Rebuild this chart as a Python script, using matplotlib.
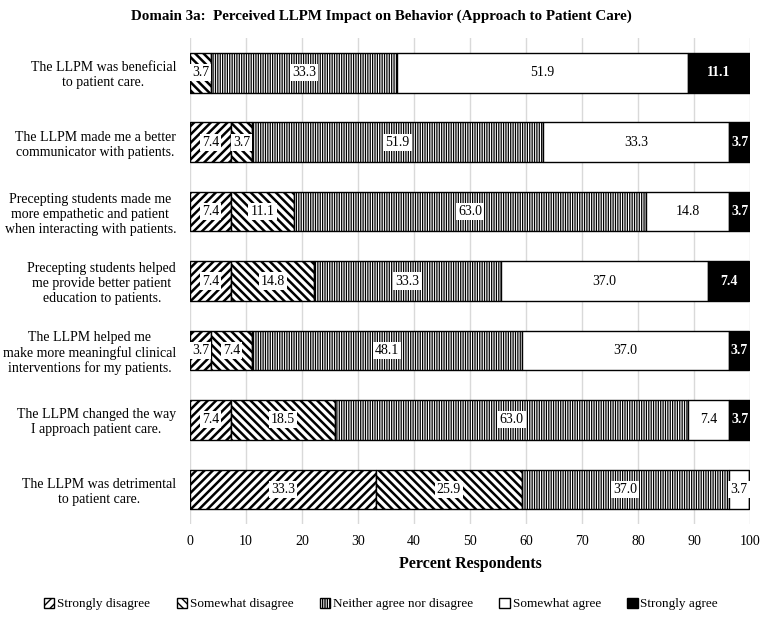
import matplotlib
matplotlib.use('Agg')
import matplotlib.pyplot as plt
import numpy as np

plt.rcParams['font.family'] = ['Liberation Serif', 'DejaVu Serif']

# statements (top to bottom)
statements = [
    'The LLPM was beneficial\nto patient care.',
    'The LLPM made me a better\ncommunicator with patients.',
    'Precepting students made me\nmore empathetic and patient\nwhen interacting with patients.',
    'Precepting students helped\nme provide better patient\neducation to patients.',
    'The LLPM helped me\nmake more meaningful clinical\ninterventions for my patients.',
    'The LLPM changed the way\nI approach patient care.',
    'The LLPM was detrimental\nto patient care.',
]
categories = ['Strongly disagree', 'Somewhat disagree', 'Neither agree nor disagree',
              'Somewhat agree', 'Strongly agree']

strongly_disagree = [0, 7.4, 7.4, 7.4, 3.7, 7.4, 33.3]
somewhat_disagree = [3.7, 3.7, 11.1, 14.8, 7.4, 18.5, 25.9]
neither = [33.3, 51.9, 63.0, 33.3, 48.1, 63.0, 37.0]
somewhat_agree = [51.9, 33.3, 14.8, 37.0, 37.0, 7.4, 3.7]
strongly_agree = [11.1, 3.7, 3.7, 7.4, 3.7, 3.7, 0]

series = [strongly_disagree, somewhat_disagree, neither, somewhat_agree, strongly_agree]
faces = ['white', 'white', 'white', 'white', 'black']
hatches = ['////', '\\\\\\\\', '|||||||', '', '']
hatch_lw = [1.8, 1.8, 0.9, 1.0, 1.0]

fig = plt.figure(figsize=(7.62, 6.17), dpi=100)
ax = fig.add_axes([0.2493, 0.1507, 0.7350, 0.7877])

y = np.arange(len(statements))
left = np.zeros(len(statements))
for vals, fc, h, hl, name in zip(series, faces, hatches, hatch_lw, categories):
    vals = np.array(vals)
    with plt.rc_context({'hatch.linewidth': hl}):
        bars = ax.barh(y, vals, left=left, height=0.57, color=fc, edgecolor='black',
                       hatch=h, linewidth=1.0, label=name, zorder=3)
    for b in bars:
        if hasattr(b, 'set_hatch_linewidth'):
            b.set_hatch_linewidth(hl)
    for yi, l, v in zip(y, left, vals):
        if v <= 0:
            continue
        if fc == 'black':
            ax.text(l + v / 2, yi, f'{v:.1f}', ha='center', va='center', fontsize=10,
                    color='white', fontweight='bold', zorder=5)
        else:
            ax.text(l + v / 2, yi, f'{v:.1f}', ha='center', va='center', fontsize=10,
                    color='black', zorder=5,
                    bbox=dict(facecolor='white', edgecolor='none', pad=1.5))
    left = left + vals

ax.set_xlim(0, 100)
ax.set_ylim(len(statements) - 0.5, -0.5)
ax.set_xticks(np.arange(0, 101, 10))
ax.set_yticks(y)
ax.set_yticklabels(statements, fontsize=10)
for t in ax.get_yticklabels():
    t.set_multialignment('center')
ax.tick_params(axis='x', labelsize=10, length=0, pad=8)
ax.tick_params(axis='y', length=0, pad=10)
ax.grid(axis='x', color='#d9d9d9', linewidth=1.0, zorder=0)
for s in ax.spines.values():
    s.set_visible(False)
ax.set_xlabel('Percent Respondents', fontsize=11.5, fontweight='bold', labelpad=6)

fig.suptitle('Domain 3a:  Perceived LLPM Impact on Behavior (Approach to Patient Care)',
             fontsize=10.8, fontweight='bold', y=0.985)

handles, labels = ax.get_legend_handles_labels()
fig.legend(handles, labels, loc='center', bbox_to_anchor=(0.5, 0.021), ncol=5,
           frameon=False, fontsize=9.5, handlelength=0.8, handleheight=0.8,
           handletextpad=0.2, columnspacing=2.0)

fig.savefig('out.png', dpi=100)
